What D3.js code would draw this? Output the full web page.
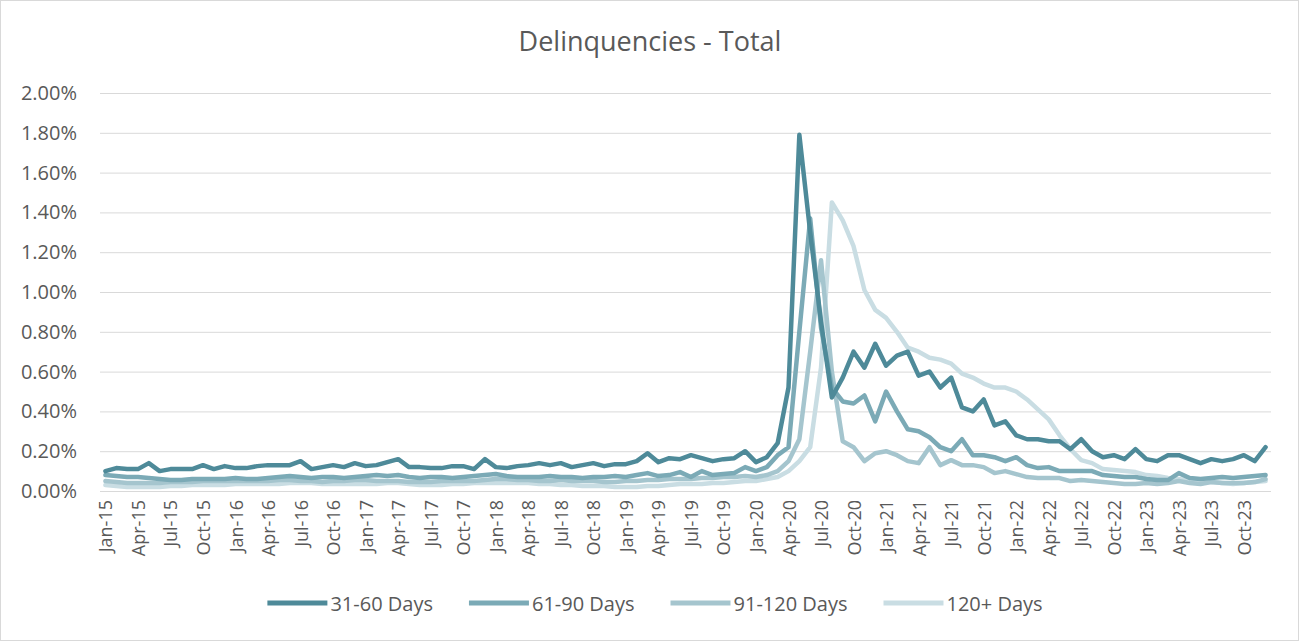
<!DOCTYPE html>
<html>
<head>
<meta charset="utf-8">
<script src="https://cdn.jsdelivr.net/npm/d3@7"></script>
<style>
  html, body { margin: 0; padding: 0; background: #fff; }
  svg { display: block; }
  text { font-family: "Open Sans", "Noto Sans", sans-serif; fill: #595959; }
</style>
</head>
<body>
<svg id="chart" width="1299" height="641"></svg>
<script>
// Monthly categories Jan-15 .. Dec-23
const startMonth = new Date(2015, 0, 1);
const categories = d3.timeMonth.range(startMonth, new Date(2024, 0, 1)).map(d3.timeFormat("%b-%y"));

// Delinquency rates, percent of balances
const days31to60 = [
  0.10, 0.115, 0.11, 0.11, 0.14, 0.10, 0.11, 0.11, 0.11, 0.13, 0.11, 0.125,
  0.115, 0.115, 0.125, 0.13, 0.13, 0.13, 0.15, 0.11, 0.12, 0.13, 0.12, 0.14,
  0.125, 0.13, 0.145, 0.16, 0.12, 0.12, 0.115, 0.115, 0.125, 0.125, 0.11, 0.16,
  0.12, 0.115, 0.125, 0.13, 0.14, 0.13, 0.14, 0.12, 0.13, 0.14, 0.125, 0.135,
  0.135, 0.15, 0.19, 0.145, 0.165, 0.16, 0.18, 0.165, 0.15, 0.16, 0.165, 0.20,
  0.145, 0.17, 0.24, 0.52, 1.79, 1.30, 0.85, 0.47, 0.57, 0.70, 0.62, 0.74,
  0.63, 0.68, 0.70, 0.58, 0.60, 0.52, 0.57, 0.42, 0.40, 0.46, 0.33, 0.35,
  0.28, 0.26, 0.26, 0.25, 0.25, 0.21, 0.26, 0.20, 0.17, 0.18, 0.16, 0.21,
  0.16, 0.15, 0.18, 0.18, 0.16, 0.14, 0.16, 0.15, 0.16, 0.18, 0.15, 0.22
];
const days61to90 = [
  0.08, 0.075, 0.07, 0.07, 0.065, 0.06, 0.055, 0.055, 0.06, 0.06, 0.06, 0.06,
  0.065, 0.06, 0.06, 0.065, 0.07, 0.075, 0.07, 0.065, 0.07, 0.07, 0.065, 0.07,
  0.075, 0.08, 0.075, 0.08, 0.07, 0.065, 0.07, 0.07, 0.065, 0.07, 0.075, 0.08,
  0.085, 0.075, 0.07, 0.07, 0.07, 0.075, 0.07, 0.07, 0.065, 0.07, 0.07, 0.075,
  0.07, 0.08, 0.09, 0.075, 0.08, 0.095, 0.07, 0.10, 0.08, 0.085, 0.09, 0.12,
  0.10, 0.12, 0.18, 0.22, 0.80, 1.37, 0.82, 0.52, 0.45, 0.44, 0.48, 0.35,
  0.50, 0.40, 0.31, 0.30, 0.27, 0.22, 0.20, 0.26, 0.18, 0.18, 0.17, 0.15,
  0.17, 0.13, 0.115, 0.12, 0.10, 0.10, 0.10, 0.10, 0.08, 0.075, 0.07, 0.07,
  0.06, 0.055, 0.055, 0.09, 0.065, 0.06, 0.065, 0.07, 0.065, 0.07, 0.075, 0.08
];
const days91to120 = [
  0.05, 0.045, 0.04, 0.04, 0.04, 0.04, 0.045, 0.045, 0.045, 0.05, 0.05, 0.05,
  0.05, 0.05, 0.05, 0.05, 0.055, 0.055, 0.05, 0.05, 0.045, 0.05, 0.05, 0.055,
  0.055, 0.05, 0.05, 0.05, 0.045, 0.045, 0.045, 0.05, 0.05, 0.05, 0.05, 0.055,
  0.06, 0.06, 0.055, 0.055, 0.05, 0.05, 0.055, 0.05, 0.05, 0.05, 0.045, 0.045,
  0.05, 0.05, 0.055, 0.055, 0.06, 0.06, 0.06, 0.065, 0.065, 0.07, 0.07, 0.075,
  0.07, 0.08, 0.10, 0.15, 0.26, 0.70, 1.16, 0.60, 0.25, 0.22, 0.15, 0.19,
  0.20, 0.18, 0.15, 0.14, 0.22, 0.13, 0.155, 0.13, 0.13, 0.12, 0.09, 0.10,
  0.085, 0.07, 0.065, 0.065, 0.065, 0.05, 0.055, 0.05, 0.045, 0.04, 0.035, 0.035,
  0.04, 0.035, 0.04, 0.05, 0.04, 0.035, 0.045, 0.04, 0.04, 0.04, 0.045, 0.06
];
const days120plus = [
  0.03, 0.025, 0.02, 0.02, 0.02, 0.02, 0.025, 0.025, 0.03, 0.03, 0.03, 0.03,
  0.035, 0.035, 0.035, 0.035, 0.035, 0.04, 0.04, 0.04, 0.035, 0.035, 0.035, 0.035,
  0.035, 0.035, 0.04, 0.04, 0.035, 0.03, 0.03, 0.03, 0.035, 0.035, 0.04, 0.04,
  0.04, 0.04, 0.04, 0.04, 0.035, 0.035, 0.03, 0.03, 0.025, 0.025, 0.025, 0.02,
  0.02, 0.02, 0.025, 0.025, 0.03, 0.035, 0.035, 0.035, 0.04, 0.04, 0.045, 0.05,
  0.05, 0.06, 0.07, 0.10, 0.15, 0.22, 0.62, 1.45, 1.36, 1.23, 1.01, 0.91,
  0.87, 0.80, 0.72, 0.70, 0.67, 0.66, 0.64, 0.59, 0.57, 0.54, 0.52, 0.52,
  0.50, 0.46, 0.41, 0.36, 0.28, 0.21, 0.155, 0.14, 0.11, 0.105, 0.10, 0.095,
  0.08, 0.075, 0.065, 0.06, 0.05, 0.05, 0.045, 0.04, 0.035, 0.04, 0.045, 0.05
];

const seriesNames = ["31-60 Days", "61-90 Days", "91-120 Days", "120+ Days"];
const seriesColors = ["#4E8A99", "#7BAAB6", "#A5C5CE", "#C9DDE3"];
const yTicks = [0, 0.2, 0.4, 0.6, 0.8, 1.0, 1.2, 1.4, 1.6, 1.8, 2.0];
const chartTitle = "Delinquencies - Total";

const series = [days31to60, days61to90, days91to120, days120plus].map((vals, k) => ({
  name: seriesNames[k], color: seriesColors[k], values: vals
}));

const W = 1299, H = 641;
const plot = { left: 100, right: 1271, top: 93, bottom: 491 };

const svg = d3.select("#chart");

// chart frame
svg.append("rect")
  .attr("x", 0.5).attr("y", 0.5).attr("width", W - 1).attr("height", H - 1)
  .attr("fill", "#fff").attr("stroke", "#D9D9D9");

const x = d3.scaleBand().domain(categories).range([plot.left, plot.right]);
const xc = c => x(c) + x.bandwidth() / 2;
const y = d3.scaleLinear().domain([0, 2]).range([plot.bottom, plot.top]);

// horizontal gridlines and value labels
const yAxis = d3.axisLeft(y).tickValues(yTicks)
  .tickFormat(d => d.toFixed(2) + "%")
  .tickSize(-(plot.right - plot.left)).tickPadding(23);
const gy = svg.append("g").attr("transform", `translate(${plot.left},0)`).call(yAxis);
gy.select(".domain").remove();
gy.selectAll(".tick line").attr("stroke", "#D9D9D9").attr("stroke-width", 1);
gy.selectAll(".tick text").attr("font-size", 20).attr("fill", "#595959");

// category labels every third month
const xAxis = d3.axisBottom(x)
  .tickValues(categories.filter((c, i) => i % 3 === 0))
  .tickSize(0).tickPadding(0);
const gx = svg.append("g").attr("transform", `translate(0,${plot.bottom})`).call(xAxis);
gx.select(".domain").remove();
gx.selectAll(".tick text")
  .attr("font-size", 18)
  .attr("fill", "#595959")
  .attr("text-anchor", "end")
  .attr("dy", null)
  .attr("y", 0)
  .attr("transform", "translate(0,9) rotate(-90)")
  .attr("dominant-baseline", "central");

// series lines, lightest first so the darker ones sit on top
const line = d3.line()
  .x((d, i) => xc(categories[i]))
  .y(d => y(d));
svg.append("g").selectAll("path")
  .data(series.slice().reverse())
  .join("path")
  .attr("d", s => line(s.values))
  .attr("fill", "none")
  .attr("stroke", s => s.color)
  .attr("stroke-width", 4.5)
  .attr("stroke-linejoin", "round")
  .attr("stroke-linecap", "round");

// title
svg.append("text")
  .attr("x", 650).attr("y", 51)
  .attr("text-anchor", "middle")
  .attr("font-size", 27)
  .text(chartTitle);

// legend
const legend = svg.append("g").attr("transform", "translate(0,603)");
const swatchW = 60, swatchGap = 3, itemGap = 36;
const items = legend.selectAll("g").data(series).join("g");
items.append("line")
  .attr("x1", 0).attr("x2", swatchW).attr("y1", 0).attr("y2", 0)
  .attr("stroke", s => s.color).attr("stroke-width", 5);
items.append("text")
  .attr("x", swatchW + swatchGap).attr("y", 0)
  .attr("dominant-baseline", "central")
  .attr("font-size", 20)
  .text(s => s.name);
let offs = 0;
const widths = [];
items.each(function () {
  widths.push(swatchW + swatchGap + d3.select(this).select("text").node().getComputedTextLength());
});
const total = d3.sum(widths) + itemGap * (widths.length - 1);
offs = 655 - total / 2;
items.attr("transform", (d, i) => {
  const t = `translate(${offs},0)`;
  offs += widths[i] + itemGap;
  return t;
});
</script>
</body>
</html>
